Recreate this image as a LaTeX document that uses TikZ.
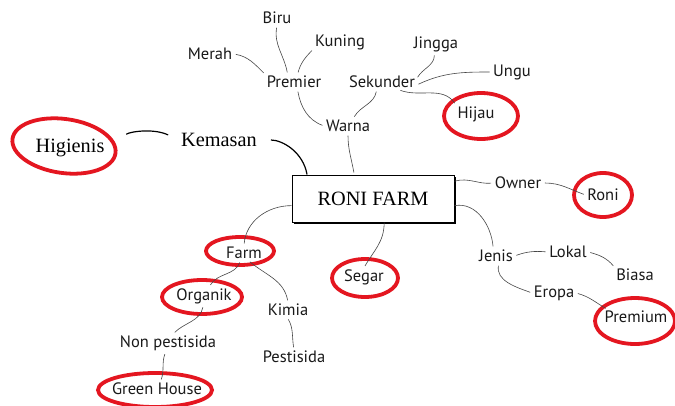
\documentclass[tikz,border=0pt]{standalone}
\usepackage{fontspec}
\setmainfont{Liberation Serif}
\newfontfamily\myriad{PT Sans}
\usetikzlibrary{shadows}
\definecolor{circred}{RGB}{228,22,32}
\definecolor{linegray}{RGB}{70,70,70}
\begin{document}
\begin{tikzpicture}[x=1pt,y=1pt,
  lbl/.style={font=\myriad\fontsize{16.5}{18}\selectfont, inner sep=1.5pt, text=black!90},
  srf/.style={font=\fontsize{20.3}{23}\selectfont, inner sep=2pt},
  con/.style={draw=linegray, line width=0.6pt, shorten >=2pt, shorten <=2pt},
  kcon/.style={draw=black, line width=1.2pt},
  ring/.style={draw=circred, line width=3.8pt, line cap=round}
]
\useasboundingbox[fill=white] (0,0) rectangle (675,-405);

% main box
\node[draw, line width=1pt, fill=white, minimum width=162pt, minimum height=47pt, srf,
  drop shadow={shadow xshift=2pt,shadow yshift=-2pt,fill=black,opacity=1}] (main) at (373,-198.5) {RONI FARM};

% serif nodes
\node[srf] (kemasan) at (219,-140) {Kemasan};
\node[srf] (higienis) at (70,-148) {Higienis};

% colour branch
\node[lbl] (biru) at (277,-18) {Biru};
\node[lbl] (merah) at (210,-54) {Merah};
\node[lbl] (kuning) at (340,-42) {Kuning};
\node[lbl] (premier) at (294,-82) {Premier};
\node[lbl] (warna) at (348,-126) {Warna};
\node[lbl] (jingga) at (436,-44) {Jingga};
\node[lbl] (sekunder) at (382,-82) {Sekunder};
\node[lbl] (ungu) at (512,-72) {Ungu};
\node[lbl] (hijau) at (476,-114) {Hijau};

% right side
\node[lbl] (owner) at (518,-183) {Owner};
\node[lbl] (roni) at (603,-195) {Roni};
\node[lbl] (jenis) at (496,-256) {Jenis};
\node[lbl] (lokal) at (568,-252) {Lokal};
\node[lbl] (biasa) at (635,-275) {Biasa};
\node[lbl] (eropa) at (554,-293) {Eropa};
\node[lbl] (premium) at (636,-317) {Premium};

% lower
\node[lbl] (segar) at (364,-277) {Segar};
\node[lbl] (farmn) at (244,-253) {Farm};
\node[lbl] (organik) at (204,-296) {Organik};
\node[lbl] (kimia) at (288,-310) {Kimia};
\node[lbl] (pestisida) at (294,-357) {Pestisida};
\node[lbl] (nonpest) at (168,-343) {Non pestisida};
\node[lbl] (greenhouse) at (157,-389) {Green House};

% red rings
\begin{scope}[rotate around={-8:(64,-146)}]
\draw[ring] (64,-146) ellipse [x radius=52, y radius=27];
\end{scope}
\draw[ring] ([shift={(5,-2)}]hijau.center) ellipse [x radius=37, y radius=23];
\draw[ring] ([shift={(0,0)}]roni.center) ellipse [x radius=29, y radius=22];
\draw[ring] ([shift={(-1,-4)}]premium.center) ellipse [x radius=40, y radius=23];
\draw[ring] ([shift={(1,-1)}]segar.center) ellipse [x radius=33, y radius=19];
\draw[ring] ([shift={(-4,2)}]farmn.center) ellipse [x radius=34, y radius=14];
\draw[ring] ([shift={(-2,-1)}]organik.center) ellipse [x radius=40, y radius=17];
\draw[ring] ([shift={(-2,-1)}]greenhouse.center) ellipse [x radius=57, y radius=17];

% connectors
\draw[con] (merah.east) to[out=-10,in=135] (premier.north west);
\draw[con] (biru.south) to[out=-100,in=100] (premier.130);
\draw[con] (kuning.195) to[out=-135,in=75] (premier.65);
\draw[con] (premier.-65) to[out=-80,in=160] (warna.west);
\draw[con] (sekunder.-125) to[out=-100,in=60] (warna.55);
\draw[con] (jingga.-100) to[out=-90,in=60] (sekunder.5);
\draw[con] (ungu.west) to[out=180,in=25] (sekunder.-5);
\draw[con] (sekunder.-25) to[out=-20,in=125] (hijau.north west);
\draw[con] (warna.south) to[out=-90,in=100] (main.128);
\draw[kcon, shorten <=12pt] (kemasan.east) to[out=0,in=100] (main.160);
\draw[kcon, shorten <=24pt, shorten >=12pt] (higienis.east) to[out=35,in=155] (kemasan.west);
\draw[con, shorten <=0pt] (main.12) to[out=15,in=185] (owner.west);
\draw[con] (owner.east) to[out=0,in=160] (roni.west);
\draw[con, shorten <=0pt] (main.-5) to[out=10,in=95] (jenis.110);
\draw[con] (jenis.east) to[out=20,in=175] (lokal.west);
\draw[con] (lokal.east) to[out=-15,in=130] (biasa.north west);
\draw[con] (jenis.-70) to[out=-100,in=160] (eropa.west);
\draw[con] (eropa.east) to[out=-15,in=150] (premium.165);
\draw[con, shorten <=0pt] (main.-65) to[out=-90,in=60] (segar.north);
\draw[con, shorten <=0pt] (main.185) to[out=180,in=85] (farmn.north);
\draw[con] (farmn.-115) to[out=-110,in=60] (organik.60);
\draw[con] (farmn.-60) to[out=-40,in=100] (kimia.north);
\draw[con] (kimia.-95) to[out=-60,in=100] (pestisida.north);
\draw[con] (organik.-95) to[out=-100,in=45] (nonpest.60);
\draw[con] (nonpest.-105) to[out=-110,in=70] (greenhouse.65);
\end{tikzpicture}
\end{document}
